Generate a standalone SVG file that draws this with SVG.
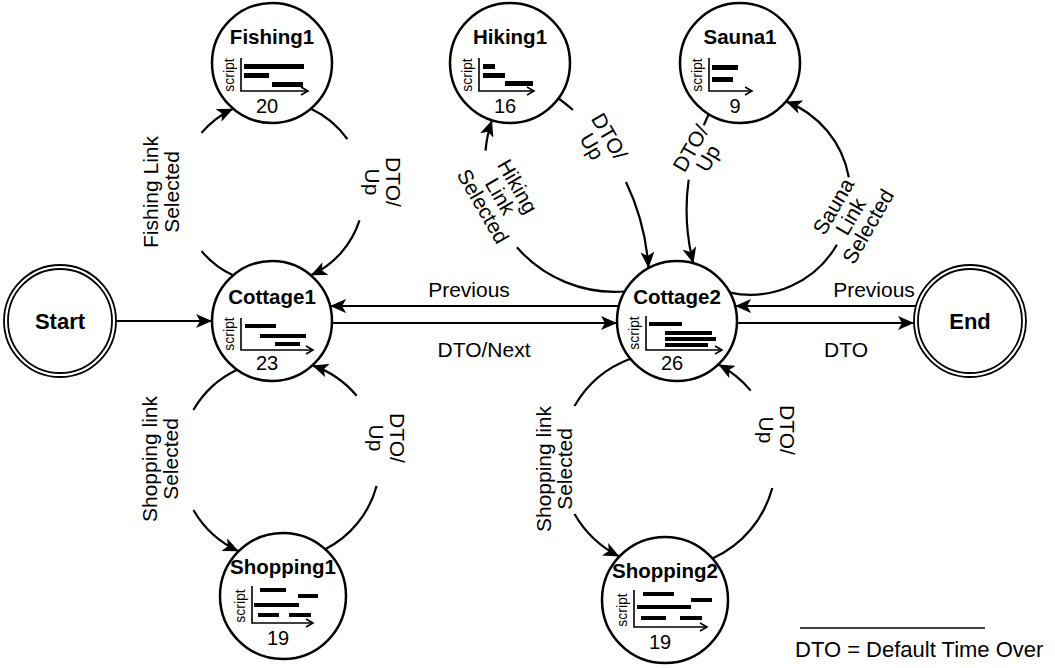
<svg xmlns="http://www.w3.org/2000/svg" width="1055" height="668" viewBox="0 0 1055 668">
<style>
text{font-family:"Liberation Sans",Arial,Helvetica,sans-serif;fill:#000}
.t{font-size:20.5px;font-weight:bold;text-anchor:middle}
.s{font-size:14px;text-anchor:middle}
.n{font-size:20px;text-anchor:middle}
.l{font-size:21px;text-anchor:middle}
.nc{fill:#fff;stroke:#000;stroke-width:2.5}
.dc{fill:none;stroke:#000;stroke-width:1.8}
.ax{fill:none;stroke:#000;stroke-width:1.6;marker-end:url(#axm)}
.bar{fill:#000}
.c{fill:none;stroke:#000;stroke-width:2.2}
.a{marker-end:url(#arr)}
</style>
<defs>
<marker id="arr" markerUnits="userSpaceOnUse" markerWidth="17" markerHeight="14" viewBox="0 0 17 14" refX="16" refY="7" orient="auto">
<path d="M0,0 L16,7 L0,14 L4,7 Z" fill="#000"/>
</marker>
<marker id="axm" markerUnits="userSpaceOnUse" markerWidth="10" markerHeight="10" viewBox="0 0 10 10" refX="8" refY="5" orient="auto">
<path d="M1,1 L8,5 L1,9" fill="none" stroke="#000" stroke-width="1.6"/>
</marker>
</defs>

<g id="connectors">
<path class="c a" d="M116,321 H212"/>
<path class="c a" d="M618.9,306 H330.1"/>
<path class="c a" d="M332,323 H617"/>
<path class="c a" d="M916,306 H735.1"/>
<path class="c a" d="M737,323 H914"/>
<path class="c" d="M233.1,275.35 A92,92 0 0 1 201.5,251.1"/>
<path class="c a" d="M201.5,132.9 A92,92 0 0 1 233.1,108.65"/>
<path class="c" d="M310.9,108.65 A92,92 0 0 1 347.4,139.2"/>
<path class="c a" d="M359.5,220.4 A92,92 0 0 1 310.9,275.35"/>
<path class="c" d="M237.1,369.8 A100,100 0 0 0 193.4,410"/>
<path class="c a" d="M193.4,510 A100,100 0 0 0 238.8,551.2"/>
<path class="c" d="M325.2,549.2 A100,100 0 0 0 376.6,485.9"/>
<path class="c a" d="M356.6,395.7 A100,100 0 0 0 312.3,365.4"/>
<path class="c" d="M630.4,358.8 A108,108 0 0 0 574.5,406"/>
<path class="c a" d="M574.5,514 A108,108 0 0 0 619.4,556.5"/>
<path class="c" d="M712.4,558.5 A108,108 0 0 0 772.3,488"/>
<path class="c a" d="M750.7,390.6 A108,108 0 0 0 718.4,364.5"/>
<path class="c" d="M624.6,291.5 A130,130 0 0 1 516.9,247.3"/>
<path class="c a" d="M485.5,150.7 A130,130 0 0 1 491.9,120.3"/>
<path class="c" d="M558,98 A235.5,235.5 0 0 1 573,110"/>
<path class="c a" d="M626,182 A235.5,235.5 0 0 1 648.5,268"/>
<path class="c" d="M711,110 A216.2,216.2 0 0 0 703.8,125.2"/>
<path class="c a" d="M688.7,179.6 A216.2,216.2 0 0 0 693.4,263.5"/>
<path class="c" d="M729.8,292.6 A100,100 0 0 0 836.9,244.7"/>
<path class="c a" d="M848.8,177.3 A100,100 0 0 0 785.9,101.4"/>

<text class="l" x="469" y="297">Previous</text>
<text class="l" x="484" y="357">DTO/Next</text>
<text class="l" x="874" y="297">Previous</text>
<text class="l" x="846" y="357">DTO</text>
<text class="l" transform="translate(158,192) rotate(-90)"><tspan x="0" y="0">Fishing Link</tspan><tspan x="0" y="21">Selected</tspan></text>
<text class="l" transform="translate(386,182) rotate(90)"><tspan x="0" y="0">DTO/</tspan><tspan x="0" y="21">Up</tspan></text>
<text class="l" transform="translate(157,459) rotate(-90)"><tspan x="0" y="0">Shopping link</tspan><tspan x="0" y="21">Selected</tspan></text>
<text class="l" transform="translate(390,438) rotate(90)"><tspan x="0" y="0">DTO/</tspan><tspan x="0" y="21">Up</tspan></text>
<text class="l" transform="translate(551,469) rotate(-90)"><tspan x="0" y="0">Shopping link</tspan><tspan x="0" y="21">Selected</tspan></text>
<text class="l" transform="translate(780,430) rotate(90)"><tspan x="0" y="0">DTO/</tspan><tspan x="0" y="21">Up</tspan></text>
<text class="l" transform="translate(494,200) rotate(60)"><tspan x="0" y="-20">Hiking</tspan><tspan x="0" y="0">Link</tspan><tspan x="0" y="20">Selected</tspan></text>
<text class="l" transform="translate(603,140) rotate(60)"><tspan x="0" y="0">DTO/</tspan><tspan x="0" y="20">Up</tspan></text>
<text class="l" transform="translate(697,152) rotate(-60)"><tspan x="0" y="0">DTO/</tspan><tspan x="0" y="20">Up</tspan></text>
<text class="l" transform="translate(857,220) rotate(-60)"><tspan x="0" y="-20">Sauna</tspan><tspan x="0" y="0">Link</tspan><tspan x="0" y="20">Selected</tspan></text>
</g>

<g id="start" transform="translate(60,321)">
<circle class="dc" r="56"/><circle class="dc" r="52"/>
<text class="t" y="8" style="font-size:22px">Start</text>
</g>

<g id="end" transform="translate(970,321)">
<circle class="dc" r="56"/><circle class="dc" r="52"/>
<text class="t" y="8" style="font-size:22px">End</text>
</g>

<g id="cottage1" transform="translate(272,321)">
<circle class="nc" r="60"/>
<text class="t" y="-17">Cottage1</text>
<text class="s" transform="translate(-38,13) rotate(-90)">script</text>
<path class="ax" d="M-31,-3 V29 H41"/>
<rect class="bar" x="-27" y="3" width="31" height="4"/>
<rect class="bar" x="-12" y="13" width="46" height="4"/>
<rect class="bar" x="3" y="21" width="25" height="4"/>
<text class="n" x="-5" y="49">23</text>
</g>

<g id="fishing1" transform="translate(272,63)">
<circle class="nc" r="60"/>
<text class="t" y="-19">Fishing1</text>
<text class="s" transform="translate(-38,12) rotate(-90)">script</text>
<path class="ax" d="M-31,-5 V28 H36"/>
<rect class="bar" x="-28" y="1" width="60" height="5"/>
<rect class="bar" x="-28" y="10" width="25" height="5"/>
<rect class="bar" x="0" y="19" width="31" height="5"/>
<text class="n" x="-5" y="50">20</text>
</g>

<g id="shopping1" transform="translate(283,596)">
<circle class="nc" r="63"/>
<text class="t" y="-22">Shopping1</text>
<text class="s" transform="translate(-38,10) rotate(-90)">script</text>
<path class="ax" d="M-31,-10 V27 H30"/>
<rect class="bar" x="-23" y="-8" width="26" height="4"/>
<rect class="bar" x="15" y="-2" width="20" height="4"/>
<rect class="bar" x="-29" y="7" width="45" height="4"/>
<rect class="bar" x="-25" y="17" width="21" height="4"/>
<rect class="bar" x="6" y="17" width="22" height="4"/>
<text class="n" x="-5" y="49">19</text>
</g>

<g id="hiking1" transform="translate(510,63)">
<circle class="nc" r="60"/>
<text class="t" y="-19">Hiking1</text>
<text class="s" transform="translate(-38,12) rotate(-90)">script</text>
<path class="ax" d="M-31,-5 V28 H24"/>
<rect class="bar" x="-27" y="1" width="12" height="5"/>
<rect class="bar" x="-27" y="10" width="22" height="5"/>
<rect class="bar" x="-5" y="18" width="28" height="5"/>
<text class="n" x="-5" y="50">16</text>
</g>

<g id="sauna1" transform="translate(740,63)">
<circle class="nc" r="60"/>
<text class="t" y="-19">Sauna1</text>
<text class="s" transform="translate(-38,12) rotate(-90)">script</text>
<path class="ax" d="M-31,-5 V28 H12"/>
<rect class="bar" x="-28" y="2" width="26" height="5"/>
<rect class="bar" x="-28" y="14" width="21" height="5"/>
<text class="n" x="-5" y="50">9</text>
</g>

<g id="cottage2" transform="translate(677,321)">
<circle class="nc" r="60"/>
<text class="t" y="-17">Cottage2</text>
<text class="s" transform="translate(-38,12) rotate(-90)">script</text>
<path class="ax" d="M-31,-5 V29 H45"/>
<rect class="bar" x="-28" y="1" width="33" height="4"/>
<rect class="bar" x="-12" y="10" width="47" height="4"/>
<rect class="bar" x="-12" y="16" width="51" height="4"/>
<rect class="bar" x="-12" y="22" width="43" height="4"/>
<text class="n" x="-5" y="49">26</text>
</g>

<g id="shopping2" transform="translate(665,600)">
<circle class="nc" r="63"/>
<text class="t" y="-22">Shopping2</text>
<text class="s" transform="translate(-38,10) rotate(-90)">script</text>
<path class="ax" d="M-31,-10 V27 H42"/>
<rect class="bar" x="-22" y="-8" width="31" height="4"/>
<rect class="bar" x="26" y="-2" width="21" height="4"/>
<rect class="bar" x="-28" y="5" width="54" height="4"/>
<rect class="bar" x="-24" y="16" width="25" height="4"/>
<rect class="bar" x="15" y="16" width="22" height="4"/>
<text class="n" x="-5" y="49">19</text>
</g>

<g id="legend">
<path d="M800,628 H985" stroke="#000" stroke-width="1.5"/>
<text x="795" y="657" style="font-size:22px">DTO = Default Time Over</text>
</g>
</svg>
